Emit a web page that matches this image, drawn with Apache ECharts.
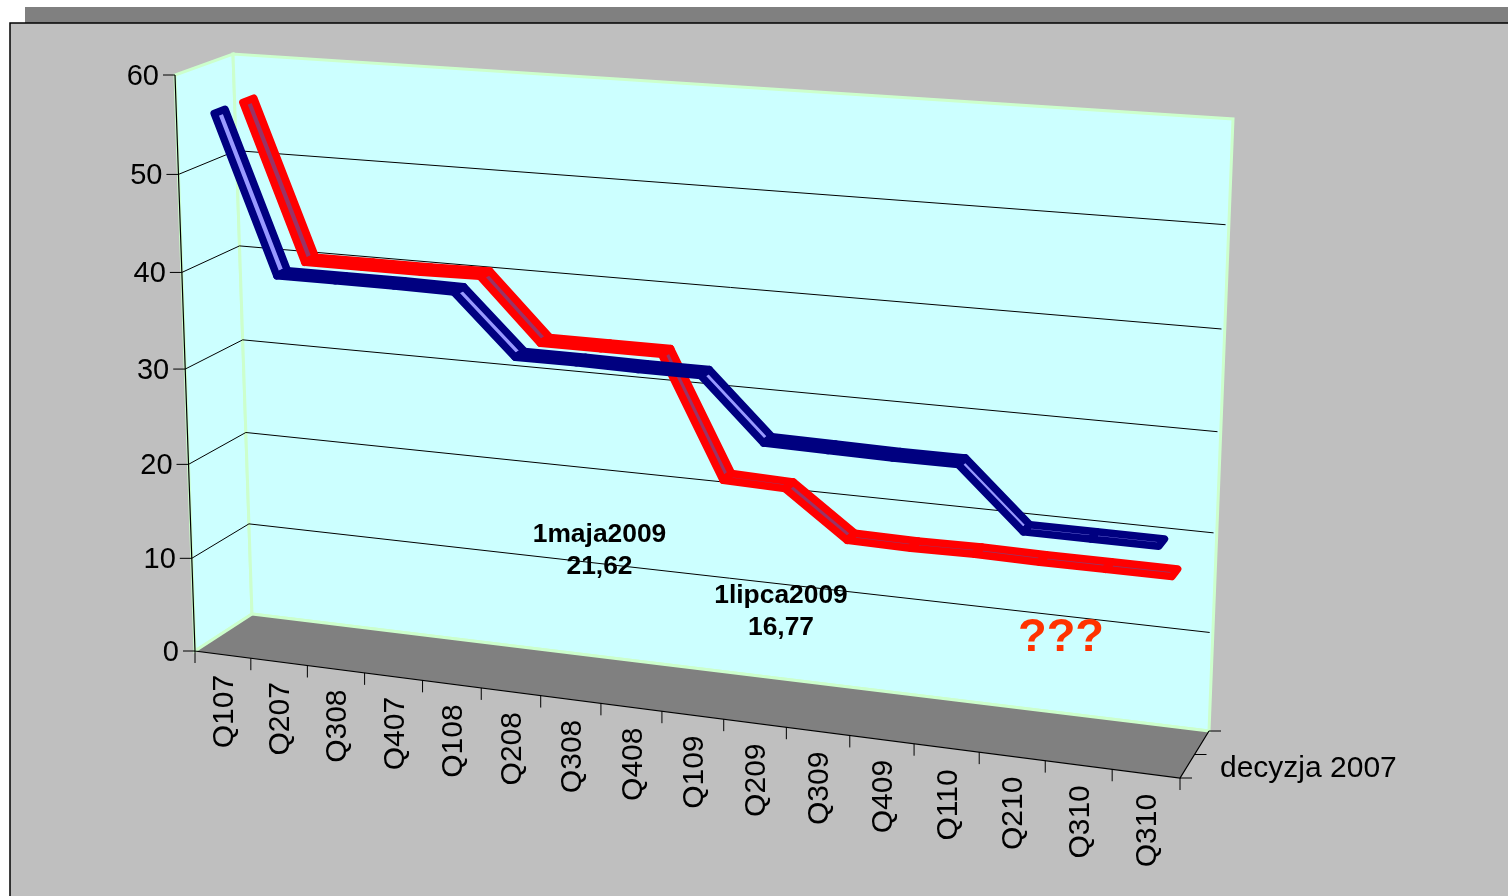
<!DOCTYPE html>
<html><head><meta charset="utf-8">
<style>html,body{margin:0;padding:0;background:#fff}#c{width:1508px;height:896px}</style>
<script src="https://cdn.jsdelivr.net/npm/echarts@6/dist/echarts.min.js"></script>
</head><body><div id="c"></div>
<script>
var categories=['Q107','Q207','Q308','Q407','Q108','Q208','Q308','Q408','Q109','Q209','Q309','Q409','Q110','Q210','Q310','Q310'];
var blueValues=[56,40,40,40,39.9,33.9,33.9,33.8,33.8,27.7,27.6,27.5,27.5,21.6,21.6,21.6];
var redValues=[56,40,40,40,40.1,33.8,33.8,33.8,21.6,21.4,16.8,16.7,16.8,16.7,16.7,16.7];
var valueTicks=[0,10,20,30,40,50,60];
var seriesName='decyzja 2007';

var FONT='"Liberation Sans",Arial,sans-serif';
function homography(p){
  var x0=p[0][0],y0=p[0][1],x1=p[1][0],y1=p[1][1],x2=p[2][0],y2=p[2][1],x3=p[3][0],y3=p[3][1];
  var dx1=x1-x2,dx2=x3-x2,sx=x0-x1+x2-x3,dy1=y1-y2,dy2=y3-y2,sy=y0-y1+y2-y3;
  var den=dx1*dy2-dx2*dy1,g=(sx*dy2-dx2*sy)/den,h=(dx1*sy-sx*dy1)/den;
  var a=x1-x0+g*x1,b=x3-x0+h*x3,d=y1-y0+g*y1,e=y3-y0+h*y3;
  return function(u,t){var w=g*u+h*t+1;return [(a*u+b*t+x0)/w,(d*u+e*t+y0)/w];};
}
// Projection planes of the pseudo-3D box: corners ordered bottom-left, bottom-right, top-right, top-left
var frontPlane=homography([[195,651],[1180,778],[1205,142],[175,75]]);
var backPlane=homography([[252,614],[1209,731],[1233,119],[233,54]]);
function project(u,t,d){
  var f=frontPlane(u,t),b=backPlane(u,t);
  return [f[0]+(b[0]-f[0])*d,f[1]+(b[1]-f[1])*d];
}
// Map a pixel produced by the cartesian axes into the box
function toBox(pt,cs,d){
  return project((pt[0]-cs.x)/cs.width,(cs.y+cs.height-pt[1])/cs.height,d);
}
var BORDER='#CCFFCC',WALL='#CCFFFF';

function renderWalls(params,api){
  return {type:'group',children:[
    {type:'polygon',shape:{points:[project(0,0,0),project(0,1,0),project(0,1,1),project(0,0,1)]},style:{fill:WALL,stroke:BORDER,lineWidth:3}},
    {type:'polygon',shape:{points:[project(0,0,1),project(1,0,1),project(1,1,1),project(0,1,1)]},style:{fill:WALL,stroke:BORDER,lineWidth:3}},
    {type:'polygon',shape:{points:[project(0,0,0),project(1,0,0),project(1,0,1),project(0,0,1)]},style:{fill:'#808080',stroke:BORDER,lineWidth:0}},
    {type:'polyline',shape:{points:[project(0,0,1),project(1,0,1)]},style:{fill:null,stroke:BORDER,lineWidth:3}},
    {type:'polyline',shape:{points:[project(0,0,0),project(0,0,1)]},style:{fill:null,stroke:BORDER,lineWidth:3}},
    // axis lines
    {type:'polyline',shape:{points:[project(0,1,0),project(0,0,0),project(1,0,0),project(1,0,1)]},style:{fill:null,stroke:'#000',lineWidth:1.2}}
  ]};
}
function renderValueTick(params,api){
  var cs=params.coordSys,v=api.value(0);
  var p=api.coord([0,v]);
  var t=(cs.y+cs.height-p[1])/cs.height;
  var a=project(0,t,0),b=project(0,t,1),c=project(0.997,t,1);
  var kids=[
    {type:'line',shape:{x1:a[0]-12,y1:a[1],x2:a[0],y2:a[1]},style:{stroke:'#000',lineWidth:1}},
    {type:'text',x:a[0]-16,y:a[1]+1.5,style:{text:String(v),font:'29px '+FONT,fill:'#000',textAlign:'right',textVerticalAlign:'middle'}}
  ];
  if(v>0&&v<60){
    kids.push({type:'polyline',shape:{points:[a,b,c]},style:{fill:null,stroke:'#000',lineWidth:1}});
  }
  return {type:'group',children:kids};
}
function renderCategory(params,api){
  var cs=params.coordSys,i=api.value(0);
  var p=api.coord([i,0]);
  var mid=toBox(p,cs,0);
  var du=1/categories.length/2;
  var u=(p[0]-cs.x)/cs.width;
  var kids=[];
  var l=project(u-du,0,0);
  kids.push({type:'line',shape:{x1:l[0],y1:l[1],x2:l[0],y2:l[1]+12},style:{stroke:'#000',lineWidth:1}});
  if(i===categories.length-1){
    var r=project(u+du,0,0);
    kids.push({type:'line',shape:{x1:r[0],y1:r[1],x2:r[0],y2:r[1]+12},style:{stroke:'#000',lineWidth:1}});
  }
  kids.push({type:'text',x:mid[0]+2,y:mid[1]+57,rotation:Math.PI/2,style:{text:categories[i],font:'30px '+FONT,fill:'#000',textAlign:'center',textVerticalAlign:'middle'}});
  return {type:'group',children:kids};
}
function renderDepthAxis(params,api){
  var a=project(1,0,0),b=project(1,0,0.5),c=project(1,0,1);
  return {type:'group',children:[
    {type:'line',shape:{x1:a[0],y1:a[1],x2:a[0]+12,y2:a[1]},style:{stroke:'#000',lineWidth:1}},
    {type:'line',shape:{x1:b[0],y1:b[1],x2:b[0]+12,y2:b[1]},style:{stroke:'#000',lineWidth:1}},
    {type:'line',shape:{x1:c[0],y1:c[1],x2:c[0]+12,y2:c[1]},style:{stroke:'#000',lineWidth:1}},
    {type:'text',x:1220,y:769,style:{text:seriesName,font:'30px '+FONT,fill:'#000',textAlign:'left',textVerticalAlign:'middle'}}
  ]};
}
function ribbon(values,depth,fill,stroke){
  var W=0.19;
  return function(params,api){
    var i=params.dataIndex;
    if(i>=values.length-1)return null;
    var cs=params.coordSys;
    var a=api.coord([i,api.value(1)]),b=api.coord([i+1,values[i+1]]);
    return {type:'polygon',shape:{points:[
      toBox(a,cs,depth-W/2),toBox(b,cs,depth-W/2),toBox(b,cs,depth+W/2),toBox(a,cs,depth+W/2)
    ]},style:{fill:fill,stroke:stroke,lineWidth:7.5,lineJoin:'round'}};
  };
}
function pairs(v){return v.map(function(y,i){return [i,y];});}

var chart=echarts.init(document.getElementById('c'),null,{renderer:'canvas'});
chart.setOption({
  animation:false,
  backgroundColor:'#fff',
  grid:{left:100,right:100,top:50,bottom:50},
  xAxis:{type:'category',data:categories,show:false},
  yAxis:{type:'value',min:0,max:60,interval:10,show:false},
  graphic:[
    {type:'rect',z:-10,shape:{x:25,y:7,width:1483,height:17},style:{fill:'#808080'}},
    {type:'rect',z:-9,shape:{x:10,y:23,width:1510,height:885},style:{fill:'#BFBFBF',stroke:'#000',lineWidth:1.5}},
    {type:'text',z:50,x:599.5,y:551,style:{text:'1maja2009\n21,62',font:'bold 26.4px '+FONT,lineHeight:32,fill:'#000',textAlign:'center',textVerticalAlign:'middle'}},
    {type:'text',z:50,x:781,y:612,style:{text:'1lipca2009\n16,77',font:'bold 26.4px '+FONT,lineHeight:32,fill:'#000',textAlign:'center',textVerticalAlign:'middle'}},
    {type:'text',z:50,x:1061,y:638,style:{text:'???',font:'bold 47px '+FONT,fill:'#FF3300',textAlign:'center',textVerticalAlign:'middle'}}
  ],
  series:[
    {type:'custom',name:'walls',z:1,silent:true,coordinateSystem:'cartesian2d',data:[[0,0]],renderItem:renderWalls,clip:false},
    {type:'custom',name:'value axis',z:2,silent:true,coordinateSystem:'cartesian2d',encode:{x:1,y:0},data:valueTicks.map(function(v){return [v,0];}),renderItem:renderValueTick,clip:false},
    {type:'custom',name:'category axis',z:2,silent:true,coordinateSystem:'cartesian2d',encode:{x:0,y:1},data:categories.map(function(c,i){return [i,0];}),renderItem:renderCategory,clip:false},
    {type:'custom',name:'depth axis',z:2,silent:true,coordinateSystem:'cartesian2d',data:[[0,0]],renderItem:renderDepthAxis,clip:false},
    {type:'custom',name:'seria 2',z:3,silent:true,coordinateSystem:'cartesian2d',encode:{x:0,y:1},data:pairs(redValues),renderItem:ribbon(redValues,0.75,'#993366','#FF0000'),clip:false},
    {type:'custom',name:seriesName,z:4,silent:true,coordinateSystem:'cartesian2d',encode:{x:0,y:1},data:pairs(blueValues),renderItem:ribbon(blueValues,0.25,'#9999FF','#000080'),clip:false}
  ]
});
</script></body></html>
